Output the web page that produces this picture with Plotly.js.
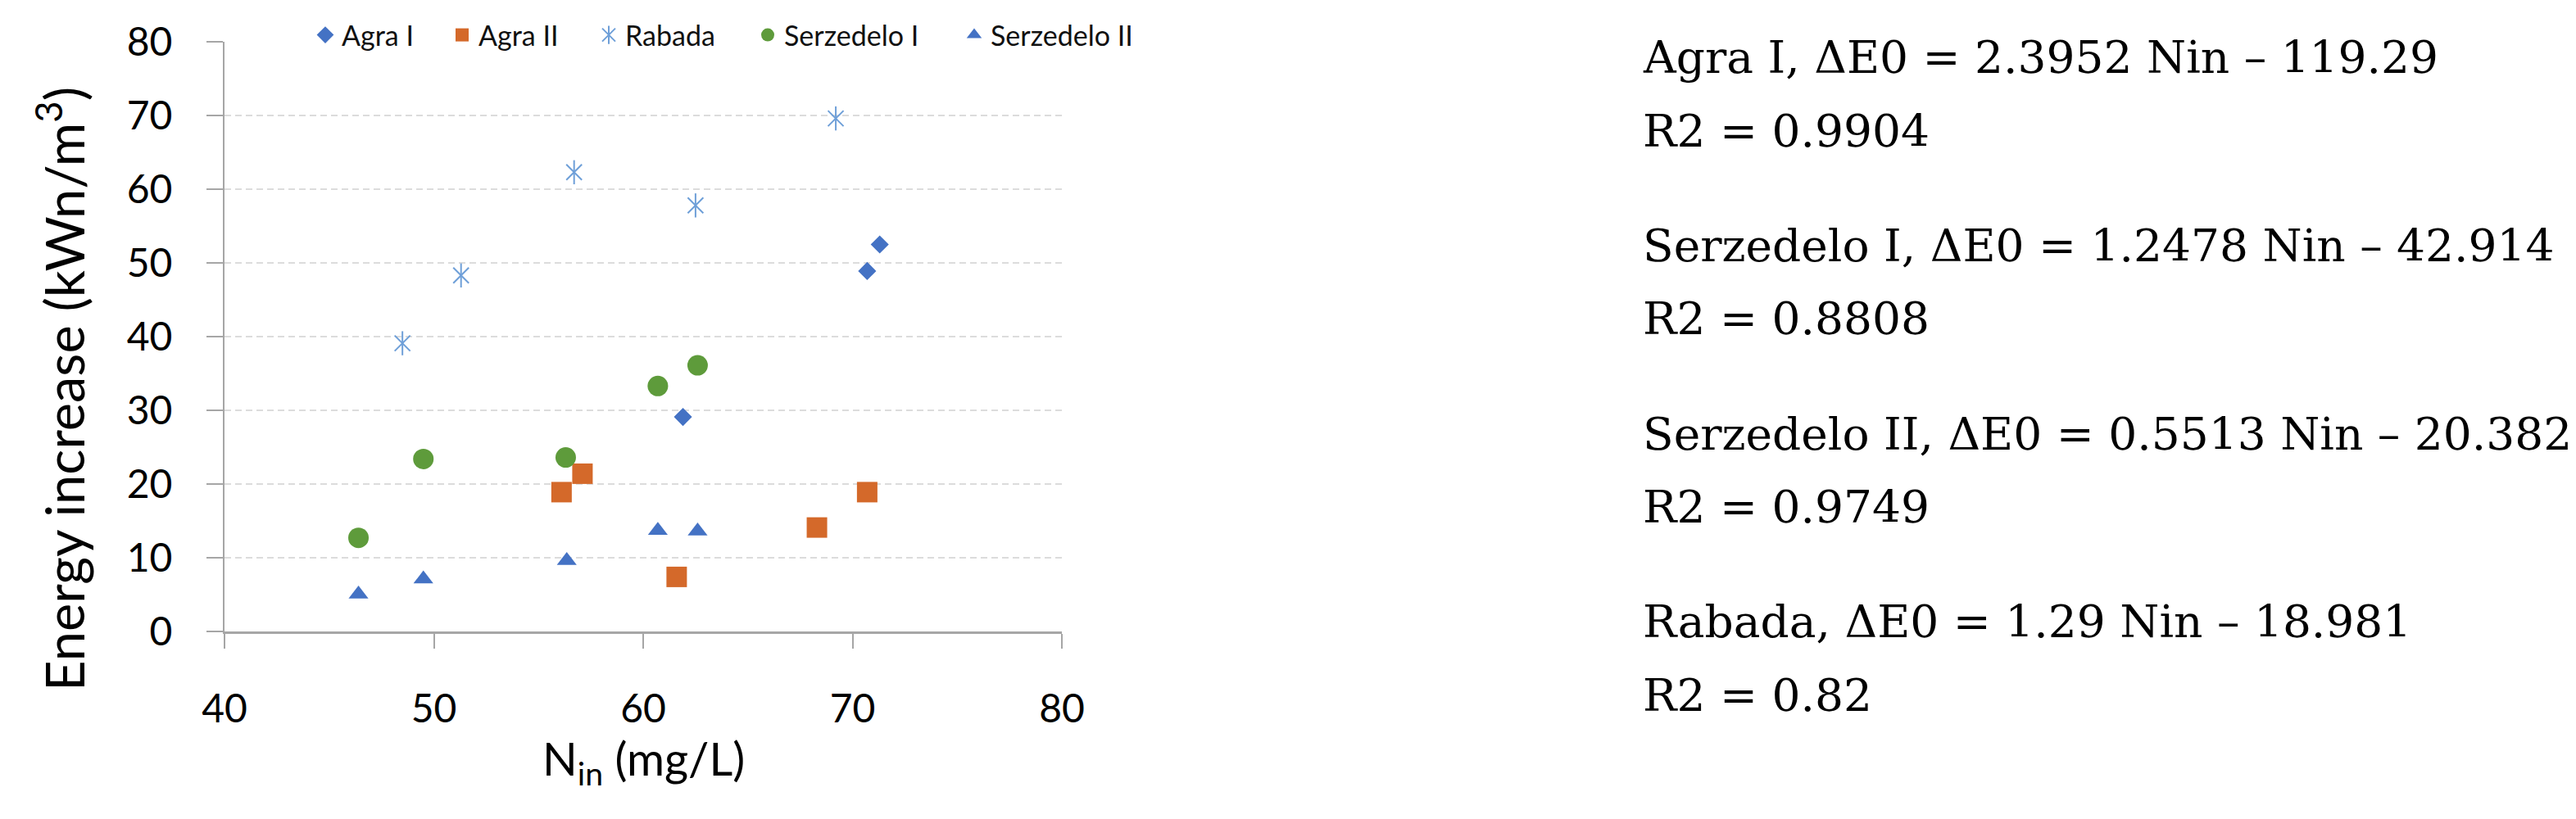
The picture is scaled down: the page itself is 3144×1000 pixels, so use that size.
<!DOCTYPE html>
<html><head><meta charset="utf-8">
<script src="https://cdn.plot.ly/plotly-3.0.1.min.js"></script>
<style>html,body{margin:0;padding:0;background:#fff}</style>
</head><body>
<div id="chart" style="width:3144px;height:1000px"></div>
<script>
// ---- data ----
const seriesNames = ['Agra I', 'Agra II', 'Rabada', 'Serzedelo I', 'Serzedelo II'];
const agraI_x = [61.9, 70.7, 71.3];
const agraI_y = [29.1, 48.9, 52.5];
const agraII_x = [56.1, 57.1, 61.6, 68.3, 70.7];
const agraII_y = [18.9, 21.4, 7.4, 14.1, 18.9];
const rabada_x = [48.5, 51.3, 56.7, 62.5, 69.2];
const rabada_y = [39.1, 48.3, 62.3, 57.8, 69.6];
const serzI_x = [46.4, 49.5, 56.3, 60.7, 62.6];
const serzI_y = [12.7, 23.4, 23.6, 33.3, 36.1];
const serzII_x = [46.4, 49.5, 56.35, 60.7, 62.6];
const serzII_y = [5.05, 7.1, 9.6, 13.7, 13.6];
const xTitle = 'N<sub>in</sub> (mg/L)';
const yTitle = 'Energy increase (kWn/m<sup>3</sup>)';
const equationLines = [
  'Agra I, ΔE0 = 2.3952 Nin – 119.29',
  'R2 = 0.9904',
  'Serzedelo I, ΔE0 = 1.2478 Nin – 42.914',
  'R2 = 0.8808',
  'Serzedelo II, ΔE0 = 0.5513 Nin – 20.382',
  'R2 = 0.9749',
  'Rabada, ΔE0 = 1.29 Nin – 18.981',
  'R2 = 0.82'
];

// ---- layout geometry (pixels) ----
const W = 3144, H = 1000;
const PL = 274, PR = 1296, PT = 51, PB = 771;
const px = v => (v - PL) / (PR - PL);
const py = v => (PB - v) / (PB - PT);
const eqBaselines = [89, 179, 319, 408, 549, 638, 778, 868];
const legendSymbolX = [397, 564, 743, 937, 1189];
const legendY = 43;

const cBlue = '#4472C4', cOrange = '#D4692A', cStar = '#6E9FD8', cGreen = '#5E9B3B';
const lato = 'Lato, "Open Sans", sans-serif';

const traces = [
  {x: agraI_x, y: agraI_y, name: seriesNames[0], legend: 'legend',
   marker: {symbol: 'diamond', size: 17, color: cBlue, line: {width: 0}}},
  {x: agraII_x, y: agraII_y, name: seriesNames[1], legend: 'legend2',
   marker: {symbol: 'square', size: 25, color: cOrange, line: {width: 0}}},
  {x: rabada_x, y: rabada_y, name: seriesNames[2], legend: 'legend3',
   marker: {symbol: 'x-thin-open', size: 19, color: cStar, line: {width: 2, color: cStar}}},
  {x: rabada_x, y: rabada_y, name: '\u00A0', legend: 'legend6',
   marker: {symbol: 'line-ns-open', size: 21, color: cStar, line: {width: 2, color: cStar}}},
  {x: serzI_x, y: serzI_y, name: seriesNames[3], legend: 'legend4',
   marker: {symbol: 'circle', size: 25, color: cGreen, line: {width: 0}}},
  {x: serzII_x, y: serzII_y, name: seriesNames[4], legend: 'legend5',
   marker: {symbol: 'triangle-up', size: 21, color: cBlue, line: {width: 0}}}
].map(t => Object.assign({type: 'scatter', mode: 'markers', showlegend: true, hoverinfo: 'skip'}, t));

function legendAt(i) {
  return {
    x: px(legendSymbolX[i] - 20), xanchor: 'left',
    y: py(legendY), yanchor: 'middle',
    orientation: 'h', bgcolor: 'rgba(0,0,0,0)', borderwidth: 0,
    font: {family: lato, size: 34, color: '#111'},
    itemsizing: 'trace'
  };
}

const annotations = [
  {text: yTitle, xref: 'paper', yref: 'paper', x: px(74), y: py(475),
   xanchor: 'center', yanchor: 'middle', textangle: -90, showarrow: false,
   font: {family: lato, size: 65, color: '#000'}},
  {text: xTitle, xref: 'paper', yref: 'paper', x: 0.5, y: py(930),
   xanchor: 'center', yanchor: 'middle', showarrow: false,
   font: {family: lato, size: 56, color: '#000'}}
];
equationLines.forEach((t, i) => {
  annotations.push({text: t, xref: 'paper', yref: 'paper', x: px(2003), y: py(eqBaselines[i] - 19),
    xanchor: 'left', yanchor: 'middle', showarrow: false,
    font: {family: '"DejaVu Serif", serif', size: 55, color: '#000'}});
});

const layout = {
  width: W, height: H,
  margin: {l: PL, r: W - PR, t: PT, b: H - PB, pad: 0},
  paper_bgcolor: '#fff', plot_bgcolor: '#fff',
  showlegend: true,
  xaxis: {range: [40, 80], dtick: 10, tick0: 40, showgrid: false, zeroline: false,
    showline: true, linecolor: '#A6A6A6', linewidth: 3,
    ticks: 'outside', ticklen: 18, tickwidth: 2, tickcolor: '#A6A6A6',
    tickfont: {family: lato, size: 48, color: '#000'}, ticklabelstandoff: 32,
    automargin: false, fixedrange: true},
  yaxis: {range: [0, 80], dtick: 10, tick0: 0, showgrid: true, gridcolor: '#DCDCDC',
    gridwidth: 2, griddash: '8px,5px', zeroline: false,
    showline: true, linecolor: '#A6A6A6', linewidth: 2,
    ticks: 'outside', ticklen: 20, tickwidth: 2, tickcolor: '#A6A6A6',
    tickfont: {family: lato, size: 48, color: '#000'}, ticklabelstandoff: 32,
    automargin: false, fixedrange: true},
  legend: legendAt(0), legend2: legendAt(1), legend3: legendAt(2),
  legend4: legendAt(3), legend5: legendAt(4), legend6: legendAt(2),
  annotations: annotations
};

Plotly.newPlot('chart', traces, layout, {staticPlot: true, displayModeBar: false});
</script>
</body></html>
